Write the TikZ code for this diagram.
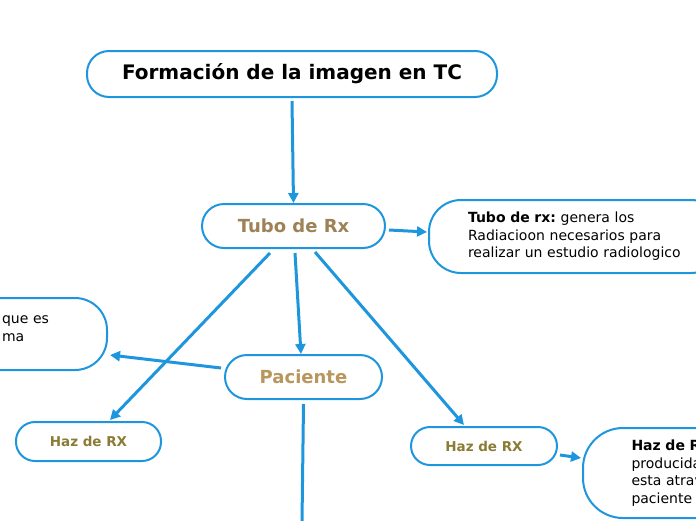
\documentclass[tikz,border=0pt]{standalone}
\usepackage{fontspec}
\setmainfont{DejaVu Sans}
\usepackage{xcolor}
\definecolor{mmblue}{RGB}{30,150,222}
\definecolor{mmtan}{RGB}{158,130,86}
\definecolor{mmsand}{RGB}{184,150,92}
\definecolor{mmolive}{RGB}{138,124,52}
\usetikzlibrary{arrows.meta,positioning,calc}

\begin{document}
\frenchspacing
\begin{tikzpicture}[
  x=1pt, y=-1pt,
  every node/.style={font=\fontsize{14}{17.5}\selectfont},
  topicbox/.style={draw=mmblue,line width=2pt,rounded corners=22pt,fill=white,inner sep=0pt},
  notebox/.style={draw=mmblue,line width=2pt,rounded corners=32pt,fill=white,align=left,inner ysep=0pt},
  link/.style={draw=mmblue,line width=3pt,-{Triangle[length=10pt,width=10pt]}},
]
  \useasboundingbox (0,0) rectangle (696,520);
  \clip (0,0) rectangle (696,520);

  % Main topic
  \node[topicbox,minimum width=410pt,minimum height=46pt,
        font=\fontsize{20}{24}\selectfont\bfseries] (title) at (292,74) {Formación de la imagen en TC};
  % Subtopics
  \node[topicbox,minimum width=183pt,minimum height=44pt,text=mmtan,
        font=\fontsize{18}{22}\selectfont\bfseries] (tubo) at (293.5,226) {Tubo de Rx};
  \node[topicbox,minimum width=157pt,minimum height=44pt,text=mmsand,
        font=\fontsize{18}{22}\selectfont\bfseries] (paciente) at (303.5,377) {Paciente};
  \node[topicbox,minimum width=145pt,minimum height=39pt,rounded corners=19pt,text=mmolive,
        font=\fontsize{13.5}{16}\selectfont\bfseries] (hazl) at (88.5,441.5) {Haz de RX};
  \node[topicbox,minimum width=146pt,minimum height=38pt,rounded corners=19pt,text=mmolive,
        font=\fontsize{13.5}{16}\selectfont\bfseries] (hazr) at (484,446) {Haz de RX};

  % Notes
  \node[notebox,anchor=west,text width=216pt,inner xsep=39pt,minimum height=73pt] (tnote) at (428,236.5)
    {\textbf{Tubo de rx:} genera los\\Radiacioon necesarios para\\realizar un estudio radiologico};
  \node[notebox,anchor=east,text width=60pt,inner xsep=45pt,minimum height=72pt,text depth=28pt] (lnote) at (108,334)
    {que es\\ma};
  \node[notebox,anchor=west,text width=120pt,inner xsep=48.5pt,minimum height=90pt,rounded corners=40pt] (bnote) at (582,473)
    {\textbf{Haz de R}\\producida\\esta atrav\\paciente};
  \coordinate (pbot) at (302,522);

  % Connectors
  \draw[link] ([yshift=-3pt]title.south) -- (tubo.north);
  \draw[link] ([xshift=3pt,yshift=-4pt]tubo.east) -- ([xshift=-1pt,yshift=4.5pt]tnote.west);
  \draw[link] ([xshift=-23.5pt,yshift=-4pt]tubo.south) -- ([xshift=21.5pt,yshift=1pt]hazl.north);
  \draw[link] ([xshift=1.5pt,yshift=-4pt]tubo.south) -- ([xshift=-2.5pt]paciente.north);
  \draw[link] ([xshift=21.5pt,yshift=-3pt]tubo.south) -- ([xshift=-20pt,yshift=1pt]hazr.north);
  \draw[link] ([xshift=-3pt,yshift=9pt]paciente.west) -- ([xshift=2pt,yshift=-21pt]lnote.east);
  \draw[draw=mmblue,line width=3pt] ([yshift=-4pt]paciente.south) -- (pbot);
  \draw[link] ([xshift=2pt,yshift=-9pt]hazr.east) -- ([xshift=-1pt,yshift=15pt]bnote.west);
\end{tikzpicture}
\end{document}
